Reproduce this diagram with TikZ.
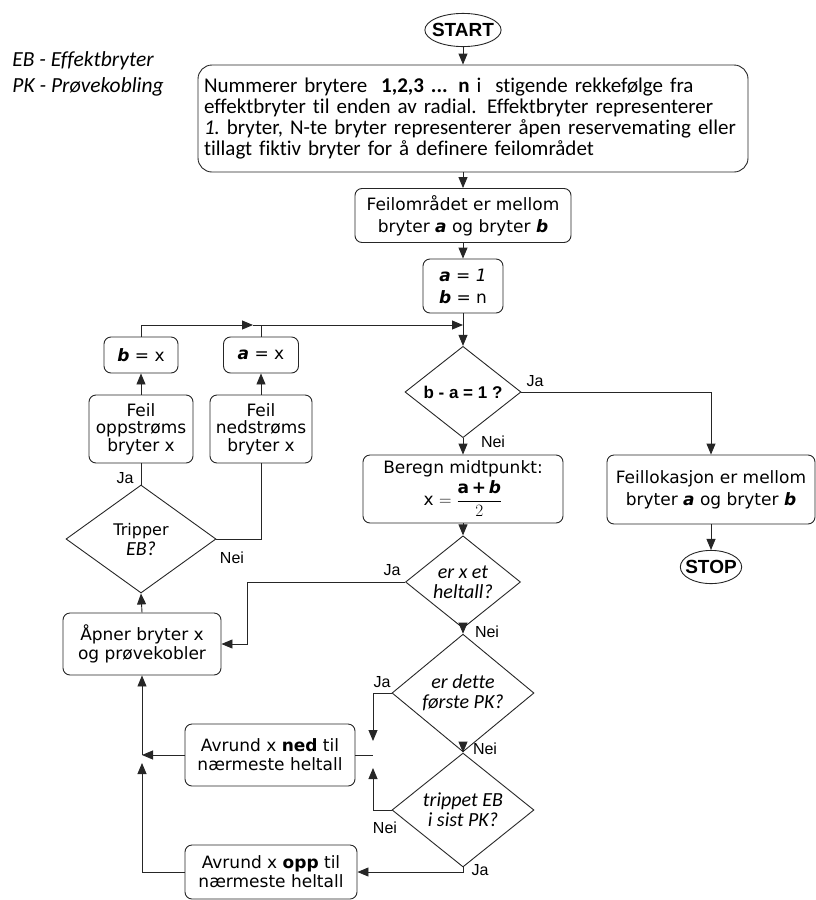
\documentclass[tikz,border=0pt]{standalone}
\usepackage{fontspec}
\usetikzlibrary{shapes.geometric,arrows.meta}
\newfontfamily\dv{DejaVu Sans}
\newfontfamily\ar{Liberation Sans}
\newfontfamily\cb[Ligatures={NoCommon}]{Carlito}
\begin{document}
\begin{tikzpicture}[x=1pt,y=-1pt,
  line width=0.9pt,
  every node/.style={inner sep=0pt},
  box/.style={draw=black!85, rounded corners=7pt, align=center,
    font=\dv\fontsize{17}{19}\selectfont},
  term/.style={draw=black!85, ellipse, inner xsep=-4pt, inner ysep=5pt,
    font=\ar\bfseries\fontsize{19}{19}\selectfont},
  dia/.style={draw=black!85, diamond, align=center},
  lbl/.style={font=\ar\fontsize{16}{16}\selectfont},
  qi/.style={font=\cb\itshape\fontsize{20}{20}\selectfont},
  arr/.style={draw=black!85, -{Triangle[length=11pt,width=9pt]}},
  ln/.style={draw=black!85},
]
\useasboundingbox (0,0) rectangle (815,900);

% legend
\node[anchor=base west, font=\cb\itshape\fontsize{21.5}{21.5}\selectfont] (leg1) at (12,66) {EB - Effektbryter};
\node[anchor=base west, font=\cb\itshape\fontsize{21.5}{21.5}\selectfont] (leg2) at (12,92) {PK - Prøvekobling};

% main column
\node[term] (start) at (463,30) {START};
\node[box, rounded corners=14pt, font=\cb\fontsize{21}{20.7}\selectfont, align=left,
      text width=538pt, inner xsep=6pt, minimum height=107] (num) at (473,118.5)
  {Nummerer brytere\ \ \textbf{1,2,3 ... n} i\ \ stigende rekkefølge fra\\
   effektbryter til enden av\ radial. Effektbryter representerer\\
   \textit{1.}\ bryter, N-te bryter representerer åpen reservemating eller\\
   tillagt fiktiv bryter for å definere feilområdet};
\node[box, minimum width=216, minimum height=54, font=\dv\fontsize{17}{22}\selectfont] (area) at (463,215.5)
  {Feilområdet er mellom\\bryter \textbf{\textit{a}} og bryter \textbf{\textit{b}}};
\node[box, minimum width=80, minimum height=54, font=\dv\fontsize{17}{22}\selectfont] (init) at (463,286)
  {\textbf{\textit{a}} = \textit{1}\\\textbf{\textit{b}} = n};

\node[dia, minimum width=116, minimum height=85, font=\ar\bfseries\fontsize{17}{17}\selectfont] (d1) at (463,392) {b - a = 1 ?};
\node[box, minimum width=200, minimum height=68] (beregn) at (463,489)
  {Beregn midtpunkt:\\[2pt] x $=\displaystyle\frac{\hbox{\dv\bfseries a\,+\,\itshape b}}{2}$};
\node[box, minimum width=208, minimum height=69, font=\dv\fontsize{17}{22}\selectfont] (floc) at (711,489.5)
  {Feillokasjon er mellom\\bryter \textbf{\textit{a}} og bryter \textbf{\textit{b}}};
\node[term] (stop) at (711,567) {STOP};

\node[dia, minimum width=115, minimum height=80, qi] (d2) at (463,582) {er x et\\heltall?};
\node[dia, minimum width=142, minimum height=94, qi] (d3) at (463,693) {er dette\\første PK?};
\node[dia, minimum width=142, minimum height=95, qi] (d4) at (463,810) {trippet EB\\i sist PK?};

\node[box, minimum width=170, minimum height=62] (ned) at (270,755) {Avrund x \textbf{ned} til\\nærmeste heltall};
\node[box, minimum width=172, minimum height=54] (opp) at (271,872) {Avrund x \textbf{opp} til\\nærmeste heltall};

% left column
\node[box, minimum width=158, minimum height=62] (aap) at (142,644) {Åpner bryter x\\og prøvekobler};
\node[dia, minimum width=150, minimum height=108, font=\dv\fontsize{16}{20}\selectfont] (trip) at (141,539)
  {Tripper\\{\cb\itshape\fontsize{20}{20}\selectfont EB?}};
\node[box, minimum width=104, minimum height=68, font=\dv\fontsize{17}{17.5}\selectfont] (oppstr) at (141,429) {Feil\\oppstrøms\\bryter x};
\node[box, minimum width=102, minimum height=68, font=\dv\fontsize{17}{17.5}\selectfont] (nedstr) at (261,429) {Feil\\nedstrøms\\bryter x};
\node[box, minimum width=74, minimum height=36] (bx) at (141,355) {\textbf{\textit{b}} = x};
\node[box, minimum width=75, minimum height=36] (ax) at (261,355) {\textbf{\textit{a}} = x};

% branch labels
\node[lbl] (l1) at (535,381) {Ja};
\node[lbl] (l2) at (493,442) {Nei};
\node[lbl] (l3) at (392,570) {Ja};
\node[lbl] (l4) at (487,632) {Nei};
\node[lbl] (l5) at (382,682) {Ja};
\node[lbl] (l6) at (485,749) {Nei};
\node[lbl] (l7) at (385,828) {Nei};
\node[lbl] (l8) at (480,870) {Ja};
\node[lbl] (l9) at (125,478) {Ja};
\node[lbl] (l10) at (232,558) {Nei};

% junction points
\coordinate (mB) at (463,325);
\coordinate (mA) at (261,325);
\coordinate (mA0) at (253,325);
\coordinate (c1) at (247,582);
\coordinate (jT) at (373,741);
\coordinate (jB) at (373,768);
\coordinate (jR) at (373,755);
\coordinate (jL) at (142,755);
\coordinate (jL2) at (142,763);

% connectors
\draw[arr] (start.south) -- (start.south |- num.north);
\draw[arr] (area.north |- num.south) -- (area.north);
\draw[arr] (area.south) -- (init.north);
\draw[ln] (init.south) -- (mB);
\draw[arr] (mB) -- (d1.north);
\draw[arr] (bx.north) |- (mA0);
\draw[ln] (mA0) -- (mA);
\draw[arr] (ax.north) |- (mB);
\draw[arr] (d1.east) -| (floc.north);
\draw[arr] (d1.south) -- (beregn.north);
\draw[arr] (floc.south) -- (stop.north);
\draw[arr] (beregn.south) -- (d2.north);
\draw[arr] (d2.west) -- (c1) |- (aap.east);
\draw[arr] (d2.south) -- (d3.north);
\draw[arr] (d3.west) -| (jT);
\draw[arr] (d3.south) -- (d4.north);
\draw[arr] (d4.west) -| (jB);
\draw[ln] (ned.east) -- (jR);
\draw[arr] (ned.west) -- (jL);
\draw[arr] (opp.west) -| (jL2);
\draw[arr] (jL) -- (jL |- aap.south);
\draw[arr] (d4.south) |- (opp.east);
\draw[arr] (aap.north) -- (trip.south);
\draw[ln] (trip.north) -- (oppstr.south);
\draw[ln] (trip.east) -| (nedstr.south);
\draw[arr] (oppstr.north) -- (bx.south);
\draw[arr] (nedstr.north) -- (ax.south);
\end{tikzpicture}
\end{document}
